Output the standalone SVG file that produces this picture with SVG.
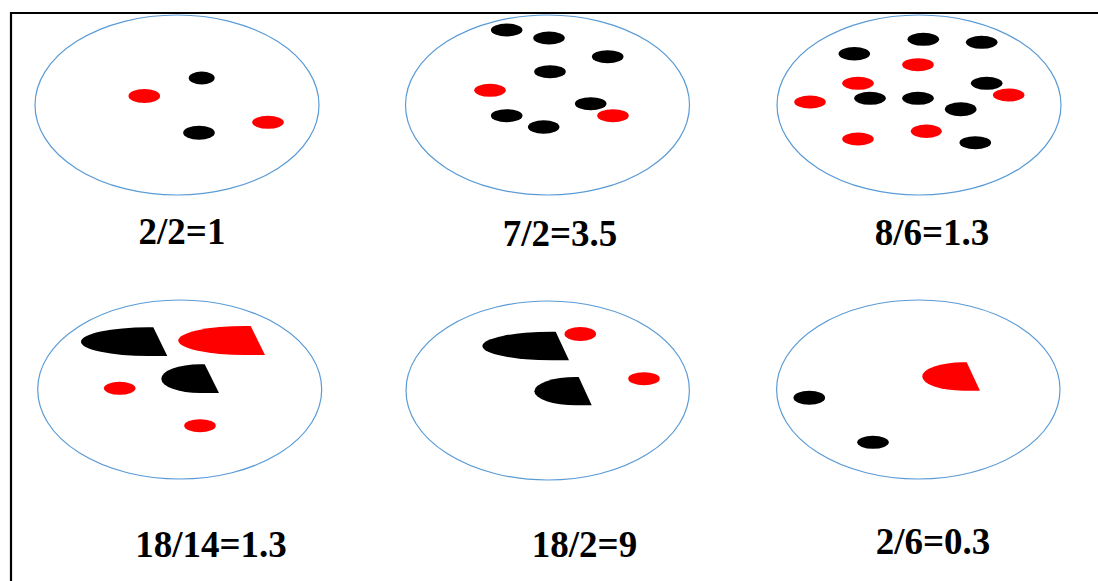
<svg xmlns="http://www.w3.org/2000/svg" width="1098" height="581" viewBox="0 0 1098 581">
<style>
.plate{fill:none;stroke:#5b9bd5;stroke-width:1.2}
.k{fill:#000}
.r{fill:#ff0000}
.lbl{font-family:"Liberation Serif","Times New Roman",serif;font-weight:bold;font-size:37px;fill:#000;text-anchor:middle}
</style>
<rect width="1098" height="581" fill="#fff"/>
<g id="frame" stroke="#000" stroke-width="2.2" fill="none">
<line x1="11" y1="13" x2="1098" y2="13"/>
<line x1="11" y1="12" x2="11" y2="581"/>
</g>
<g id="panel1">
<ellipse class="plate" cx="177" cy="105" rx="142" ry="90"/>
<ellipse class="k" cx="201.7" cy="78" rx="13" ry="6.5"/>
<ellipse class="r" cx="144.3" cy="96" rx="15.8" ry="7"/>
<ellipse class="k" cx="199" cy="132.7" rx="15.8" ry="7"/>
<ellipse class="r" cx="268" cy="122.3" rx="15.8" ry="6.5"/>
<text class="lbl" x="182" y="244">2/2=1</text>
</g>
<g id="panel2">
<ellipse class="plate" cx="547.5" cy="105" rx="142" ry="90"/>
<ellipse class="k" cx="506.7" cy="30" rx="15.8" ry="6.5"/>
<ellipse class="k" cx="549" cy="38" rx="15.8" ry="6.5"/>
<ellipse class="k" cx="607.7" cy="56.7" rx="15.8" ry="6.5"/>
<ellipse class="k" cx="550" cy="71.7" rx="15.8" ry="6.5"/>
<ellipse class="r" cx="490" cy="90.3" rx="15.8" ry="6.5"/>
<ellipse class="k" cx="590.7" cy="103.7" rx="15.8" ry="6.5"/>
<ellipse class="r" cx="613" cy="115.7" rx="15.8" ry="6.5"/>
<ellipse class="k" cx="506.7" cy="115.7" rx="15.8" ry="6.5"/>
<ellipse class="k" cx="543.7" cy="127" rx="15.8" ry="6.8"/>
<text class="lbl" x="560" y="246">7/2=3.5</text>
</g>
<g id="panel3">
<ellipse class="plate" cx="919" cy="105" rx="142" ry="90"/>
<ellipse class="k" cx="923.3" cy="39.3" rx="15.8" ry="6.5"/>
<ellipse class="k" cx="981.7" cy="42.3" rx="15.8" ry="6.5"/>
<ellipse class="k" cx="854.3" cy="53.7" rx="15.8" ry="6.8"/>
<ellipse class="r" cx="918" cy="64.7" rx="15.8" ry="6.5"/>
<ellipse class="r" cx="858" cy="83.3" rx="15.8" ry="6.5"/>
<ellipse class="k" cx="986.7" cy="83.3" rx="15.8" ry="6.5"/>
<ellipse class="r" cx="1008.7" cy="95" rx="15.8" ry="6.5"/>
<ellipse class="r" cx="810" cy="102" rx="15.8" ry="6.5"/>
<ellipse class="k" cx="870" cy="98.3" rx="15.8" ry="6.5"/>
<ellipse class="k" cx="918" cy="98.3" rx="15.8" ry="6.5"/>
<ellipse class="k" cx="960.7" cy="109.3" rx="15.8" ry="7"/>
<ellipse class="r" cx="926.3" cy="131.3" rx="15.5" ry="6.8"/>
<ellipse class="r" cx="858" cy="139" rx="15.8" ry="6.5"/>
<ellipse class="k" cx="975.3" cy="142.7" rx="15.8" ry="6.5"/>
<text class="lbl" x="932" y="245">8/6=1.3</text>
</g>
<g id="panel4">
<ellipse class="plate" cx="179.7" cy="389.5" rx="142" ry="89.5"/>
<path class="k" d="M153.3,327.3 L167.3,356 L148,356 A67,14.35 0 0 1 148,327.3 Z"/>
<path class="r" d="M250.7,326 L265,355 L245,355 A66.7,14.5 0 0 1 245,326 Z"/>
<path class="k" d="M204.7,364.3 L219,393 L200,393 A38.7,14.35 0 0 1 200,364.3 Z"/>
<ellipse class="r" cx="119.7" cy="388.3" rx="15.8" ry="6.5"/>
<ellipse class="r" cx="200" cy="425.7" rx="15.8" ry="6.5"/>
<text class="lbl" x="211" y="557">18/14=1.3</text>
</g>
<g id="panel5">
<ellipse class="plate" cx="547.7" cy="390.5" rx="141.7" ry="89.5"/>
<path class="k" d="M555.7,331.7 L569,360.3 L552,360.3 A69.7,14.3 0 0 1 552,331.7 Z"/>
<ellipse class="r" cx="580.3" cy="334" rx="15.8" ry="7"/>
<path class="k" d="M578.7,377 L591.7,405.3 L576,405.3 A41.7,14.15 0 0 1 576,377 Z"/>
<ellipse class="r" cx="644" cy="378.7" rx="15.8" ry="6.5"/>
<text class="lbl" x="584.5" y="557">18/2=9</text>
</g>
<g id="panel6">
<ellipse class="plate" cx="918.3" cy="389.5" rx="141.7" ry="89.5"/>
<path class="r" d="M966.7,362.3 L980,390.7 L963,390.7 A40.7,14.2 0 0 1 963,362.3 Z"/>
<ellipse class="k" cx="809.3" cy="397.7" rx="15.8" ry="7"/>
<ellipse class="k" cx="873" cy="442.3" rx="15.8" ry="6.5"/>
<text class="lbl" x="933" y="554">2/6=0.3</text>
</g>
<g id="connectors"/>
</svg>
